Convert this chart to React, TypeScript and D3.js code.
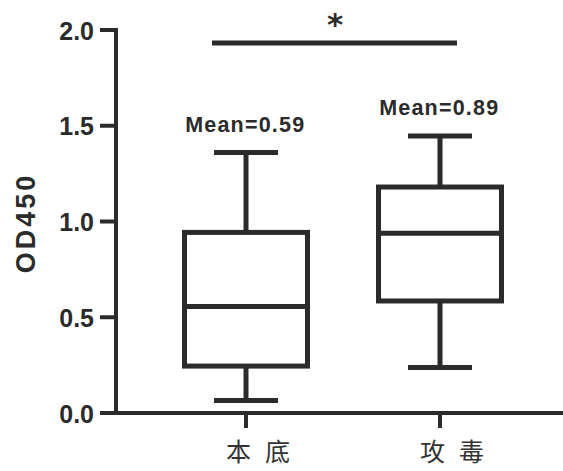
import React from "react";
import * as d3 from "d3";

const categories = ["本底", "攻毒"];
const whiskerLow = [0.065, 0.238];
const q1 = [0.245, 0.585];
const median = [0.556, 0.938];
const q3 = [0.943, 1.18];
const whiskerHigh = [1.36, 1.446];
const means = [0.59, 0.89];
const yTicks = [0, 0.5, 1.0, 1.5, 2.0];
const sigLevel = 1.932;
const sigLabel = "*";
const yLabel = "OD450";

const W = 563;
const H = 471;
const INK = "#2b2b2b";
const FONT = "'Liberation Sans', Arial, sans-serif";

export default function App() {
  const y = d3.scaleLinear().domain([0, 2]).range([413, 30]);
  const x = d3.scalePoint<string>().domain(categories).range([246, 440]);
  const axisX = 116;
  const boxW = 123;
  const capW = 64;
  const sw = 5;

  return (
    <div style={{ position: "absolute", left: 0, top: 0 }}>
      <svg width={W} height={H} style={{ display: "block", background: "#fff" }}>
        {/* y axis */}
        <line x1={axisX} x2={axisX} y1={y(2) - 2} y2={y(0) + 2} stroke={INK} strokeWidth={4} />
        {yTicks.map((t) => (
          <g key={t}>
            <line x1={axisX - 16} x2={axisX} y1={y(t)} y2={y(t)} stroke={INK} strokeWidth={4} />
            <text
              x={94}
              y={y(t) + 9.5}
              textAnchor="end"
              fontFamily={FONT}
              fontWeight="bold"
              fontSize={25}
              fill={INK}
            >
              {d3.format(".1f")(t)}
            </text>
          </g>
        ))}
        <text
          transform={`translate(35, 223) rotate(-90)`}
          textAnchor="middle"
          fontFamily={FONT}
          fontWeight="bold"
          fontSize={27}
          letterSpacing={3}
          fill={INK}
        >
          {yLabel}
        </text>

        {/* x axis */}
        <line x1={axisX - 2} x2={W} y1={y(0)} y2={y(0)} stroke={INK} strokeWidth={4} />
        {categories.map((c) => (
          <g key={c}>
            <line x1={x(c)!} x2={x(c)!} y1={y(0)} y2={y(0) + 15} stroke={INK} strokeWidth={4} />
            <text
              x={x(c)! - 20}
              y={461}
              textAnchor="start"
              fontFamily="'Noto Sans CJK SC', sans-serif"
              fontSize={25}
              letterSpacing={14}
              fill="#333"
            >
              {c}
            </text>
          </g>
        ))}

        {/* boxes */}
        {categories.map((c, i) => {
          const cx = x(c)!;
          return (
            <g key={"b" + c} stroke={INK} strokeWidth={sw} fill="none">
              <line x1={cx} x2={cx} y1={y(whiskerHigh[i])} y2={y(q3[i])} />
              <line x1={cx} x2={cx} y1={y(q1[i])} y2={y(whiskerLow[i])} />
              <line x1={cx - capW / 2} x2={cx + capW / 2} y1={y(whiskerHigh[i])} y2={y(whiskerHigh[i])} />
              <line x1={cx - capW / 2} x2={cx + capW / 2} y1={y(whiskerLow[i])} y2={y(whiskerLow[i])} />
              <rect x={cx - boxW / 2} y={y(q3[i])} width={boxW} height={y(q1[i]) - y(q3[i])} fill="#fff" />
              <line x1={cx - boxW / 2} x2={cx + boxW / 2} y1={y(median[i])} y2={y(median[i])} />
              <text
                x={cx - 0.75}
                y={y(whiskerHigh[i]) - 21}
                textAnchor="middle"
                fontFamily={FONT}
                fontWeight="bold"
                fontSize={21.5}
                letterSpacing={1.2}
                fill={INK}
                stroke="none"
              >
                {`Mean=${d3.format(".2f")(means[i])}`}
              </text>
            </g>
          );
        })}

        {/* significance */}
        <line
          x1={x(categories[0])! - 34}
          x2={x(categories[1])! + 17}
          y1={y(sigLevel)}
          y2={y(sigLevel)}
          stroke={INK}
          strokeWidth={5}
        />
        <text
          x={335}
          y={35}
          textAnchor="middle"
          fontFamily="'DejaVu Sans', sans-serif"
          fontWeight="bold"
          fontSize={31}
          fill={INK}
        >
          {sigLabel}
        </text>
      </svg>
    </div>
  );
}
